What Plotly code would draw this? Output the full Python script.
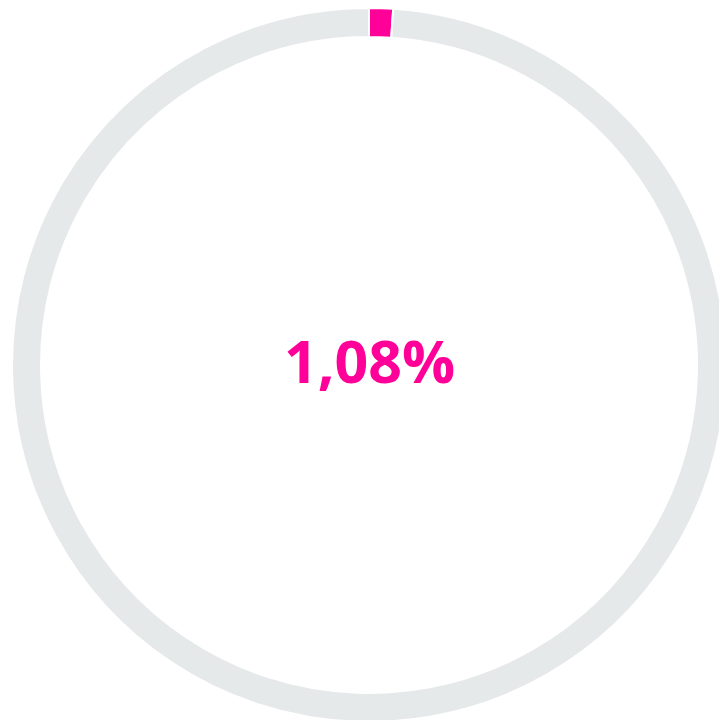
import plotly.graph_objects as go

labels = ["Valor", "Restante"]
values = [1.08, 98.92]
colors = ["#FF0099", "#E6E9EA"]
center_text = "1,08%"

W, H = 738, 730
cx, cy, R = 369, 365, 357  # pixel centre / outer radius in the page

fig = go.Figure(go.Pie(
    labels=labels,
    values=values,
    hole=328 / 357,
    sort=False,
    direction="clockwise",
    rotation=0,
    marker=dict(colors=colors, line=dict(color="white", width=2)),
    textinfo="none",
    hoverinfo="skip",
    showlegend=False,
    domain=dict(x=[(cx - R) / W, (cx + R) / W],
                y=[(H - cy - R) / H, (H - cy + R) / H]),
))

fig.add_annotation(
    text="<b>" + center_text + "</b>",
    x=(cx + 1) / W, y=(H - cy + 5) / H, xref="paper", yref="paper",
    showarrow=False,
    font=dict(family="Open Sans", size=59, color="#FF0099"),
)

fig.update_layout(
    width=W, height=H,
    margin=dict(l=0, r=0, t=0, b=0),
    paper_bgcolor="white", plot_bgcolor="white",
)

fig.write_html(
    "out.html",
    config={"displayModeBar": False},
    post_script="document.body.style.margin='0';document.body.style.overflow='hidden';document.documentElement.style.overflow='hidden';",
)
